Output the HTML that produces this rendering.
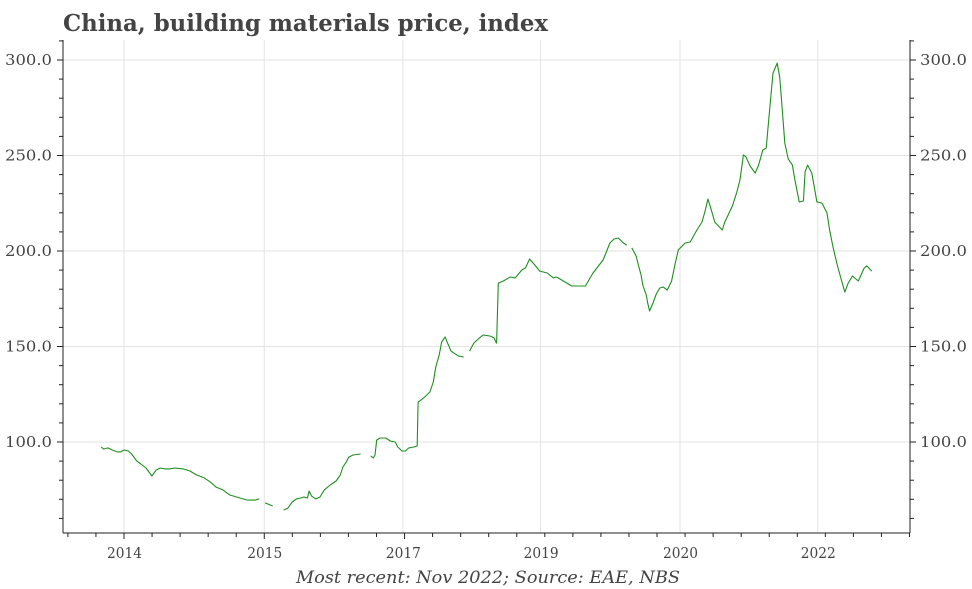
<!DOCTYPE html>
<html><head><meta charset="utf-8"><style>
html,body{margin:0;padding:0;background:#fff;}
svg{display:block;font-family:"DejaVu Serif","Liberation Serif",serif;}
</style></head><body>
<svg id="chart" width="972" height="589" xmlns="http://www.w3.org/2000/svg">
<text x="63" y="31" font-size="23" font-weight="bold" fill="#444" textLength="485" lengthAdjust="spacingAndGlyphs">China, building materials price, index</text>
<text x="296" y="583" font-size="17" font-style="italic" fill="#444" textLength="384" lengthAdjust="spacingAndGlyphs">Most recent: Nov 2022; Source: EAE, NBS</text>
<g id="grid"></g>
<g id="axes"></g>
<g id="series"></g>
</svg>
<script>
const dates = [2013.73,2013.76,2013.81,2013.86,2013.92,2013.96,2014.00,2014.05,2014.09,2014.15,2014.20,2014.26,2014.33,2014.38,2014.43,2014.49,2014.54,2014.60,2014.70,2014.78,2014.86,2014.95,2015.02,2015.09,2015.17,2015.25,2015.37,2015.46,2015.55,2015.60,
null,2015.67,2015.76,
null,2015.89,2015.94,2015.99,2016.04,2016.09,2016.13,2016.17,2016.19,2016.22,2016.27,2016.32,2016.37,2016.44,2016.51,2016.56,2016.59,2016.63,2016.66,2016.71,2016.80,
null,2016.92,2016.95,2016.97,2016.99,2017.03,2017.10,2017.15,2017.21,2017.24,2017.29,2017.33,2017.37,2017.43,2017.47,2017.48,2017.50,2017.56,2017.62,2017.66,2017.69,2017.73,2017.76,2017.80,2017.83,2017.87,2017.92,2017.96,2018.02,
null,2018.09,2018.14,2018.19,2018.25,2018.33,2018.38,2018.40,2018.41,2018.43,2018.49,2018.57,2018.63,2018.71,2018.75,2018.80,2018.86,2018.92,2019.01,2019.08,2019.12,2019.20,2019.30,2019.46,2019.55,2019.67,2019.75,2019.80,2019.85,2019.91,2019.95,
null,2020.01,2020.06,2020.09,2020.12,2020.14,2020.18,2020.20,2020.22,2020.26,2020.30,2020.34,2020.38,2020.43,2020.48,2020.52,2020.56,2020.64,2020.70,2020.78,2020.84,2020.88,2020.91,2020.95,2020.99,2021.08,2021.11,2021.15,2021.20,2021.25,2021.29,2021.33,2021.36,2021.41,2021.47,2021.51,2021.56,2021.60,2021.63,2021.68,2021.70,2021.73,2021.76,2021.79,2021.82,2021.86,2021.91,2021.94,2021.99,2022.04,2022.06,2022.09,2022.14,2022.20,2022.26,2022.32,2022.35,2022.39,2022.44,2022.49,2022.53,2022.57,2022.62,2022.69,2022.76,2022.79,2022.85];
const values = [97.4,96.3,96.9,95.8,94.8,94.8,95.8,95.3,93.7,90.1,88.5,86.4,82.2,85.3,86.4,85.9,85.9,86.4,85.9,84.8,82.7,81.2,79.1,76.4,74.9,72.3,70.7,69.6,69.6,70.2,
null,68.1,66.5,
null,64.4,65.4,68.6,70.2,70.7,71.2,70.7,74.3,71.7,70.2,71.2,74.9,77.5,79.6,82.7,86.9,89.5,92.1,93.2,93.7,
null,92.7,91.6,93.2,101.0,102.1,102.1,100.5,100.0,97.4,95.3,95.3,96.9,97.4,97.9,120.9,121.5,123.6,126.2,131.4,139.3,145.6,152.4,155.0,151.8,147.6,146.1,145.0,144.5,
null,147.6,151.8,153.9,156.0,155.5,154.5,152.4,151.8,183.2,184.3,186.4,185.9,190.1,191.1,195.8,192.7,189.5,188.5,185.9,186.4,184.3,181.7,181.7,188.5,195.3,204.2,206.3,206.8,204.2,203.1,
null,201.6,197.4,192.2,187.4,182.2,177.0,172.3,168.6,172.8,177.5,180.6,181.2,179.6,184.3,192.7,200.5,204.2,204.7,211.0,215.2,221.5,227.2,221.5,215.2,211.0,215.2,218.9,223.6,230.4,237.2,250.3,249.3,244.5,240.8,245.0,252.9,253.9,268.6,293.2,295.3,298.4,291.1,273.8,256.5,248.2,245.0,237.2,225.7,226.2,241.4,245.0,240.8,225.7,225.1,219.9,211.0,202.1,192.7,184.8,178.5,183.2,186.9,184.3,191.1,192.2,189.5];
const xTickYears = [2014.00,2015.66,2017.30,2018.93,2020.58,2022.21];
const xTickLabels = ["2014","2015","2017","2019","2020","2022"];
const yTicks = [100,150,200,250,300];
const yTickLabels = ["100.0","150.0","200.0","250.0","300.0"];

const NS="http://www.w3.org/2000/svg";
const L=63,R=910,B=533,T=40;
const xs=t=>124+(t-2014)*84.5;
const ys=v=>442-(v-100)*1.91;
function mk(tag,attrs,parent){const e=document.createElementNS(NS,tag);for(const k in attrs)e.setAttribute(k,attrs[k]);parent.appendChild(e);return e;}
const grid=document.getElementById('grid'),axes=document.getElementById('axes'),series=document.getElementById('series');
yTicks.forEach((v,i)=>{
  const y=ys(v);
  const g=mk('line',{x1:L,x2:R,y1:y,y2:y,stroke:'#e3e3e3','stroke-width':1},grid);
  
  
  const t1=mk('text',{x:52,y:y+5,'font-size':15,fill:'#444','text-anchor':'end',textLength:47,lengthAdjust:'spacingAndGlyphs'},axes);t1.textContent=yTickLabels[i];
  
  
  const t2=mk('text',{x:920,y:y+5,'font-size':15,fill:'#444',textLength:47,lengthAdjust:'spacingAndGlyphs'},axes);t2.textContent=yTickLabels[i];
  
  
});
for(let v=60;v<=310;v+=10){const y=ys(v);if(y<T||y>B)continue;const major=v%50===0;
  mk('line',{x1:L-(major?6:4),x2:L,y1:y,y2:y,stroke:'#222'},axes);
  mk('line',{x1:R,x2:R+(major?6:4),y1:y,y2:y,stroke:'#222'},axes);}
xTickYears.forEach((t,i)=>{
  const x=xs(t);
  const g=mk('line',{x1:x,x2:x,y1:T,y2:B,stroke:'#e3e3e3'},grid);
  
  
  const tx=mk('text',{x:x-17,y:558,'font-size':15,fill:'#444',textLength:35,lengthAdjust:'spacingAndGlyphs'},axes);tx.textContent=xTickLabels[i];
  
  
});
const step=(xs(xTickYears[1])-xs(xTickYears[0]))/5;
for(let x=xs(xTickYears[0])-2*step;x<R;x+=step){if(x<L)continue;const major=xTickYears.some(t=>Math.abs(xs(t)-x)<2);
  mk('line',{x1:x,x2:x,y1:B,y2:B+(major?6:4),stroke:'#222'},axes);}
const ax1=mk('line',{x1:L,x2:L,y1:T,y2:B,stroke:'#222'},axes);


const ax2=mk('line',{x1:R,x2:R,y1:T,y2:B,stroke:'#222'},axes);


const ax3=mk('line',{x1:L,x2:R,y1:B,y2:B,stroke:'#222'},axes);


let d='',pen=false;
for(let i=0;i<dates.length;i++){
  if(dates[i]===null||values[i]===null){pen=false;continue;}
  d+=(pen?'L':'M')+xs(dates[i]).toFixed(1)+','+ys(values[i]).toFixed(1);pen=true;
}
const p=mk('path',{d:d,fill:'none',stroke:'#1f8f1f','stroke-width':1.1,'stroke-linejoin':'round'},series);


</script>
</body></html>
